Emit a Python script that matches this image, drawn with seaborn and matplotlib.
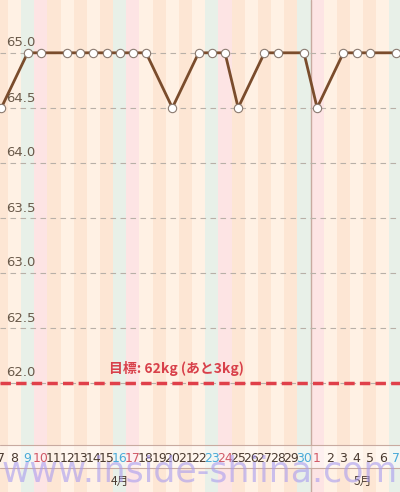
import seaborn as sns
import matplotlib.pyplot as plt
import matplotlib.transforms as mtransforms
import pandas as pd

sns.set_theme(style="white")
plt.rcParams['font.family'] = ['Noto Sans CJK JP', 'DejaVu Sans']

# дни: 7..30 апреля, 1..7 мая
day_labels = [str(d) for d in range(7, 31)] + [str(d) for d in range(1, 8)]
# 0 = будни, 1 = суббота, 2 = воскресенье
day_kind = [0, 0, 1, 2, 0, 0, 0, 0, 0, 1, 2, 0, 0, 0, 0, 0, 1, 2, 0, 0, 0, 0, 0, 1, 2, 0, 0, 0, 0, 0, 1]
# индексы дней с записями и вес
rec_idx = [0, 2, 3, 5, 6, 7, 8, 9, 10, 11, 13, 15, 16, 17, 18, 20, 21, 23, 24, 26, 27, 28, 30]
weight = [64.5, 65.0, 65.0, 65.0, 65.0, 65.0, 65.0, 65.0, 65.0, 65.0, 64.5, 65.0, 65.0, 65.0,
          64.5, 65.0, 65.0, 65.0, 64.5, 65.0, 65.0, 65.0, 65.0]
yticks = [62.0, 62.5, 63.0, 63.5, 64.0, 64.5, 65.0]
goal = 62.0
months = ['4月', '5月']

df = pd.DataFrame({'idx': rec_idx, 'weight': weight})

fig = plt.figure(figsize=(4, 4.92), dpi=100)
ax = fig.add_axes([0, 0, 1, 1])
ax.set_xlim(-0.1, 30.3)
ax.set_ylim(65.48 - 492 / 110, 65.48)

# фоновые полосы
week_cols = ['#fde6d4', '#fff1e4']
for i, k in enumerate(day_kind):
    if k == 1:
        c = '#e8f0e8'
    elif k == 2:
        c = '#fde4e4'
    else:
        c = week_cols[i % 2]
    ax.axvspan(i - 0.5, i + 0.5, color=c, lw=0, zorder=0)

ax.axvline(23.5, color='#c8aaa0', lw=1, zorder=1)

tr = mtransforms.blended_transform_factory(ax.transAxes, ax.transData)
for v in yticks:
    ax.axhline(v, color='#b8b0a8', lw=0.8, ls=(0, (5, 4)), zorder=1)
    ax.text(0.015, v + 0.03, f"{v:.1f}", transform=tr, fontsize=9.5,
            color='#6a5a4a', va='bottom', family=['DejaVu Sans'])

ax.axhline(goal, color='#e0404a', lw=2.5, ls=(0, (3, 1.5)), zorder=3)
ax.text(13.3, goal + 0.06, '目標: 62kg (あと3kg)', color='#d8404a', fontsize=10,
        fontweight='bold', ha='center', va='bottom', zorder=4)

sns.lineplot(data=df, x='idx', y='weight', ax=ax, color='#7a4c2c', lw=2, zorder=5,
             marker='o', markersize=6, markerfacecolor='white', markeredgecolor='#8a7a70',
             markeredgewidth=0.8)

# полоса с датами
tx = mtransforms.blended_transform_factory(ax.transData, ax.transAxes)
ax.axhspan(65.48 - 468 / 110, 65.48 - 445 / 110, color='white', alpha=0.45, lw=0, zorder=2)
ax.axhline(65.48 - 445 / 110, color='#c8aaa0', lw=0.8, zorder=2)
ax.axhline(65.48 - 468 / 110, color='#c8aaa0', lw=0.8, zorder=2)
kind_col = {0: '#4a3a30', 1: '#4aaad8', 2: '#d05a68'}
for i, (lab, k) in enumerate(zip(day_labels, day_kind)):
    ax.text(i, 1 - 458 / 492, lab, transform=tx, ha='center', va='center',
            fontsize=9, color=kind_col[k], zorder=6, family=['DejaVu Sans'])
ax.text(9, 1 - 481 / 492, months[0], transform=tx, ha='center', va='center', fontsize=8.5,
        color='#4a3a30', zorder=6)
ax.text(27.5, 1 - 481 / 492, months[1], transform=tx, ha='center', va='center', fontsize=8.5,
        color='#4a3a30', zorder=6)

fig.text(0.5, 1 - 472 / 492, 'www.inside-shiina.com', ha='center', va='center', fontsize=25,
         color='#a89cf0', alpha=0.6, family=['DejaVu Sans'], zorder=10)

ax.set_xlabel('')
ax.set_ylabel('')
ax.set_xticks([])
ax.set_yticks([])
for s in ax.spines.values():
    s.set_visible(False)
ax.grid(False)

fig.savefig('out.png', dpi=100)
